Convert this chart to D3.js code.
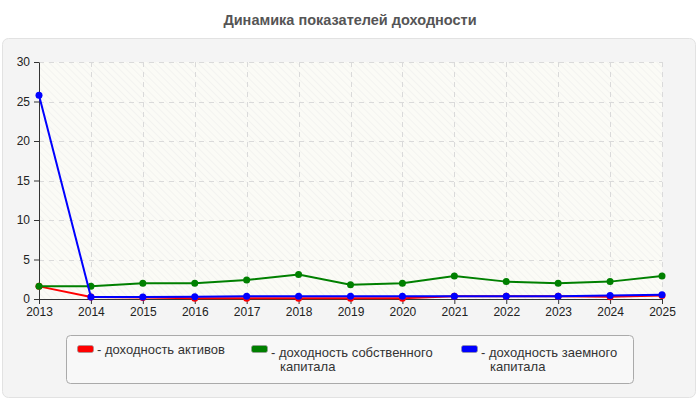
<!DOCTYPE html>
<html>
<head>
<meta charset="utf-8">
<script src="https://cdn.jsdelivr.net/npm/d3@7"></script>
<style>
  html, body { margin: 0; padding: 0; background: #ffffff; }
  svg { display: block; font-family: "Liberation Sans", Arial, sans-serif; }
</style>
</head>
<body>
<svg id="chart" width="700" height="400"></svg>
<script>
const title = "Динамика показателей доходности";
const years = [2013, 2014, 2015, 2016, 2017, 2018, 2019, 2020, 2021, 2022, 2023, 2024, 2025];
const yTicks = [0, 5, 10, 15, 20, 25, 30];
const seriesNames = [
  ["- доходность активов"],
  ["- доходность собственного", "капитала"],
  ["- доходность заемного", "капитала"]
];
const seriesColors = ["#ff0000", "#008000", "#0000ff"];
const returnOnAssets = [1.6, 0.25, 0.2, 0.1, 0.1, 0.1, 0.1, 0.1, 0.35, 0.35, 0.35, 0.3, 0.45];
const returnOnEquity = [1.6, 1.6, 2.0, 2.0, 2.4, 3.1, 1.8, 2.0, 2.9, 2.2, 2.0, 2.2, 2.9];
const returnOnDebt = [25.8, 0.25, 0.25, 0.3, 0.35, 0.35, 0.35, 0.35, 0.35, 0.35, 0.35, 0.45, 0.55];
const seriesValues = [returnOnAssets, returnOnEquity, returnOnDebt];

const svg = d3.select("#chart");
const plot = { left: 39, right: 662, top: 62, bottom: 299 };

// title
svg.append("text")
  .attr("x", 350).attr("y", 25)
  .attr("text-anchor", "middle")
  .attr("font-size", 14.5).attr("font-weight", "bold")
  .attr("fill", "#555")
  .text(title);

// outer panel
svg.append("rect")
  .attr("x", 2.5).attr("y", 38.5).attr("width", 693).attr("height", 359)
  .attr("rx", 6).attr("fill", "#f4f4f4").attr("stroke", "#e2e2e2");

// hatch pattern
const defs = svg.append("defs");
const pat = defs.append("pattern")
  .attr("id", "hatch").attr("patternUnits", "userSpaceOnUse")
  .attr("width", 5).attr("height", 5)
  .attr("patternTransform", "rotate(-45)");
pat.append("rect").attr("width", 5).attr("height", 5).attr("fill", "#fbfbf6");
pat.append("line").attr("x1", 0).attr("y1", 0).attr("x2", 0).attr("y2", 5)
  .attr("stroke", "#eeeeec").attr("stroke-width", 1.2);

const x = d3.scaleLinear().domain([years[0], years[years.length - 1]]).range([plot.left, plot.right]);
const y = d3.scaleLinear().domain([0, 30]).range([plot.bottom, plot.top]);

svg.append("rect")
  .attr("x", plot.left).attr("y", plot.top)
  .attr("width", plot.right - plot.left).attr("height", plot.bottom - plot.top)
  .attr("fill", "url(#hatch)");

// grid
const grid = svg.append("g").attr("stroke", "#dadada").attr("stroke-dasharray", "5,5").attr("stroke-width", 1);
yTicks.filter(t => t > 0).forEach(t => {
  grid.append("line").attr("x1", plot.left).attr("x2", plot.right)
    .attr("y1", Math.round(y(t)) + 0.5).attr("y2", Math.round(y(t)) + 0.5);
});
years.slice(1).forEach(t => {
  grid.append("line").attr("y1", plot.top).attr("y2", plot.bottom)
    .attr("x1", Math.round(x(t)) + 0.5).attr("x2", Math.round(x(t)) + 0.5);
});

// axes
const xAxis = d3.axisBottom(x).tickValues(years).tickFormat(d3.format("d")).tickSize(5).tickSizeOuter(0).tickPadding(3);
const yAxis = d3.axisLeft(y).tickValues(yTicks).tickSize(5).tickSizeOuter(0).tickPadding(4);

const gx = svg.append("g").attr("transform", `translate(0,${plot.bottom})`).call(xAxis);
const gy = svg.append("g").attr("transform", `translate(${plot.left},0)`).call(yAxis);
[gx, gy].forEach(g => {
  g.selectAll("path,line").attr("stroke", "#333");
  g.selectAll("text").attr("fill", "#222").attr("font-size", 12)
    .attr("font-family", "'Liberation Sans', Arial, sans-serif");
});

// lines
const line = d3.line().x((d, i) => x(years[i])).y(d => y(d));
seriesValues.forEach((vals, s) => {
  const g = svg.append("g");
  g.append("path").datum(vals)
    .attr("d", line).attr("fill", "none")
    .attr("stroke", seriesColors[s]).attr("stroke-width", 2);
  g.selectAll("circle").data(vals).join("circle")
    .attr("cx", (d, i) => x(years[i])).attr("cy", d => y(d))
    .attr("r", 3.5).attr("fill", seriesColors[s]);
});

// legend
svg.append("rect")
  .attr("x", 66.5).attr("y", 335.5).attr("width", 567).attr("height", 48)
  .attr("rx", 4).attr("fill", "#f8f8f8").attr("stroke", "#aaa");

const legendX = [77, 251, 461];
const legendBase = [354, 357, 357];
seriesNames.forEach((lines, s) => {
  const g = svg.append("g");
  g.append("rect")
    .attr("x", legendX[s] + 0.5).attr("y", 345.5).attr("width", 16).attr("height", 7)
    .attr("rx", 2).attr("fill", seriesColors[s]).attr("stroke", "#999").attr("stroke-width", 0.7);
  const t = g.append("text").attr("font-size", 13).attr("fill", "#333");
  lines.forEach((ln, k) => {
    t.append("tspan")
      .attr("x", k === 0 ? legendX[s] + 20 : legendX[s] + 29)
      .attr("y", legendBase[s] + k * 14)
      .text(ln);
  });
});
</script>
</body>
</html>
